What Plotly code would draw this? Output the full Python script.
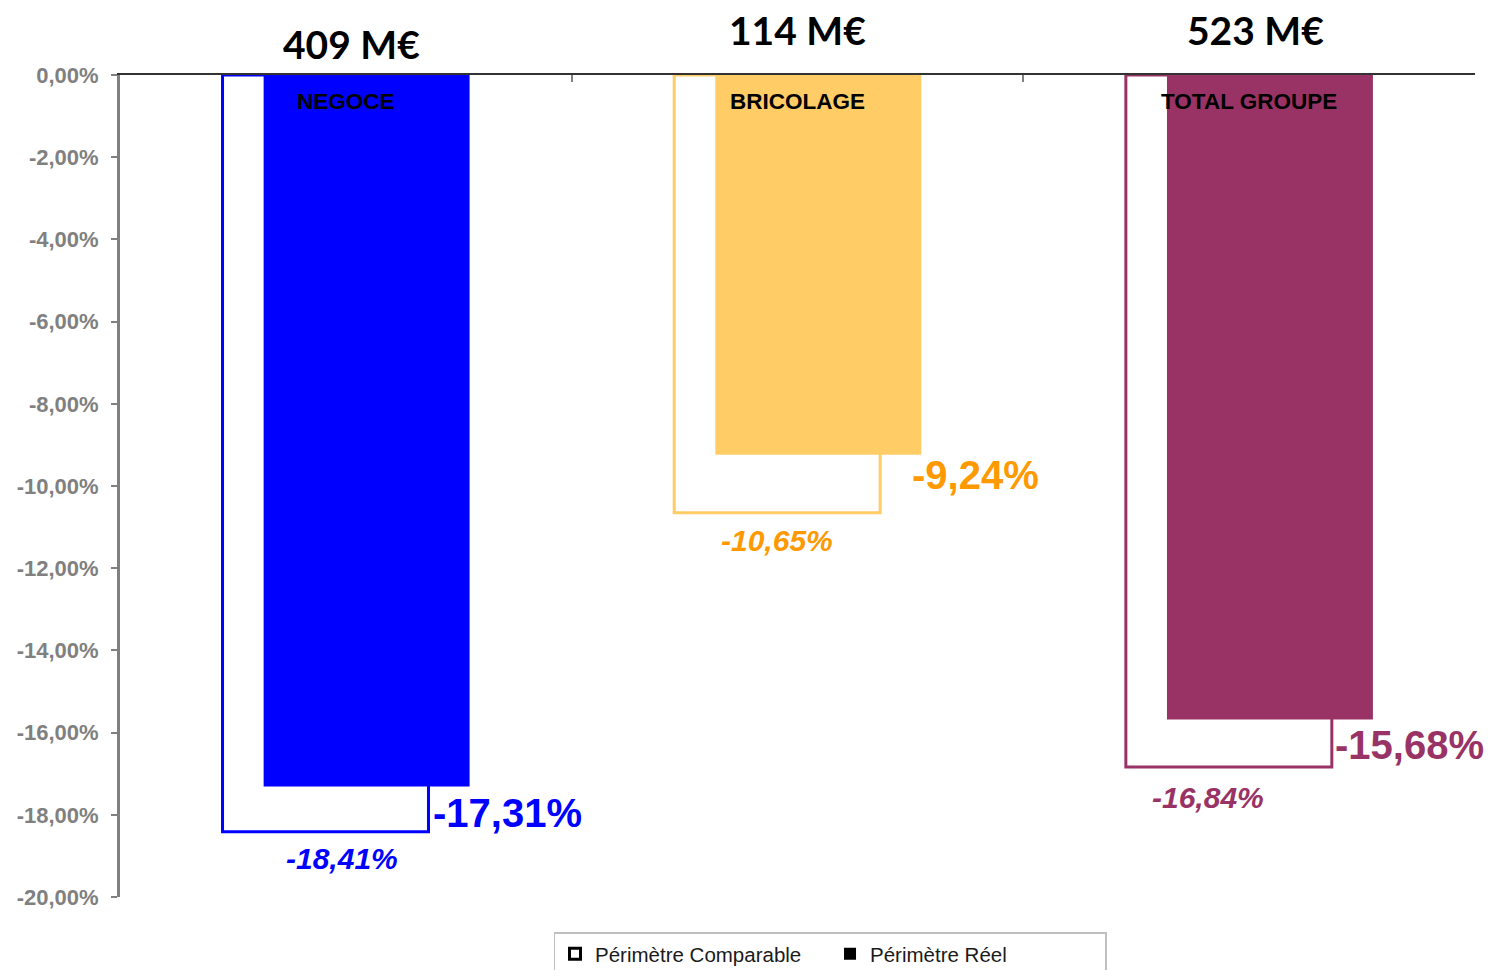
import plotly.graph_objects as go

# ---- data ----
categories = ["NEGOCE", "BRICOLAGE", "TOTAL GROUPE"]
perimetre_reel = [-17.31, -9.24, -15.68]
perimetre_comparable = [-18.41, -10.65, -16.84]
chiffre_affaires = [409, 114, 523]  # M€
y_tick_values = [0, -2, -4, -6, -8, -10, -12, -14, -16, -18, -20]

# ---- styles ----
fill_colors = ["#0000FF", "#FFCC66", "#993366"]
label_colors = ["#0000FF", "#FF9900", "#993366"]
BAR_W = 0.456
OFF_COMP = -0.273
OFF_REAL = -0.182
# label placement tweaks (fraction of category slot / pixel shifts)
real_lbl_dx = [0.359, 0.395, 0.356]
real_lbl_dy = [-27, -20, -26]
comp_lbl_dx = [-0.008, -0.045, -0.092]
comp_lbl_dy = [-27, -28, -30]
top_lbl_dx = [0.013, 0.0, 0.014]
top_lbl_dy = [31, 45, 45]


def fr(v):
    return f"{v:.2f}%".replace(".", ",")


fig = go.Figure()

fig.add_trace(go.Bar(
    x=categories, y=perimetre_comparable, offset=OFF_COMP, width=BAR_W,
    marker=dict(color="white", line=dict(color=fill_colors, width=3)),
    showlegend=False, hoverinfo="skip",
))
fig.add_trace(go.Bar(
    x=categories, y=perimetre_reel, offset=OFF_REAL, width=BAR_W,
    marker=dict(color=fill_colors, line=dict(width=0)),
    showlegend=False, hoverinfo="skip",
))

# legend entries
fig.add_trace(go.Scatter(
    x=[None], y=[None], mode="markers", name="Périmètre Comparable",
    marker=dict(symbol="square-open", size=11, color="black", line=dict(width=3, color="black")),
))
fig.add_trace(go.Scatter(
    x=[None], y=[None], mode="markers", name="Périmètre Réel",
    marker=dict(symbol="square", size=12, color="black"),
))

annotations = []
for i, cat in enumerate(categories):
    # category name inside bar top
    annotations.append(dict(
        x=i, y=0, xref="x", yref="y", text=f"<b>{cat}</b>", showarrow=False,
        yanchor="top", yshift=-12,
        font=dict(family="Liberation Sans", size=22.5, color="black"),
    ))
    # real value label
    annotations.append(dict(
        x=i + real_lbl_dx[i], y=perimetre_reel[i], xref="x", yref="y",
        text=f"<b>{fr(perimetre_reel[i])}</b>", showarrow=False,
        yanchor="middle", yshift=real_lbl_dy[i],
        font=dict(family="Liberation Sans", size=40, color=label_colors[i]),
    ))
    # comparable value label
    annotations.append(dict(
        x=i + comp_lbl_dx[i], y=perimetre_comparable[i], xref="x", yref="y",
        text=f"<b><i>{fr(perimetre_comparable[i])}</i></b>", showarrow=False,
        yanchor="middle", yshift=comp_lbl_dy[i],
        font=dict(family="Liberation Sans", size=30, color=label_colors[i]),
    ))
    # revenue label above chart
    annotations.append(dict(
        x=i + top_lbl_dx[i], y=1, xref="x", yref="paper",
        text=f"<b>{chiffre_affaires[i]} M€</b>", showarrow=False,
        yanchor="middle", yshift=top_lbl_dy[i],
        font=dict(family="Lato", size=39, color="black"),
    ))

fig.update_layout(
    width=1477, height=962,
    margin=dict(l=112, r=10, t=67, b=73, autoexpand=False),
    paper_bgcolor="white", plot_bgcolor="white",
    barmode="overlay",
    font=dict(family="Liberation Sans", color="#222222"),
    annotations=annotations,
    legend=dict(
        orientation="h", x=0.524, xanchor="center", y=-0.043, yanchor="top",
        bordercolor="#BFBFBF", borderwidth=1.5,
        font=dict(family="Liberation Sans", size=20.5, color="#1a1a1a"),
        itemwidth=30, entrywidth=230, tracegroupgap=0,
    ),
    xaxis=dict(
        side="top", type="category", range=[-0.5, 2.5],
        showticklabels=False, showgrid=False, zeroline=False,
        showline=True, linecolor="#333333", linewidth=2,
        ticks="inside", tickson="boundaries", ticklen=7, tickwidth=1.5, tickcolor="#808080",
    ),
    yaxis=dict(
        range=[-20, 0], showgrid=False, zeroline=False,
        showline=True, linecolor="#808080", linewidth=3,
        ticks="outside", ticklen=6, tickwidth=2, tickcolor="#808080",
        ticklabelstandoff=8,
        tickvals=y_tick_values, ticktext=[f"<b>{fr(v)}</b>" for v in y_tick_values],
        tickfont=dict(family="Liberation Sans", size=22, color="#808080"),
    ),
)

fig.write_html("out.html")
